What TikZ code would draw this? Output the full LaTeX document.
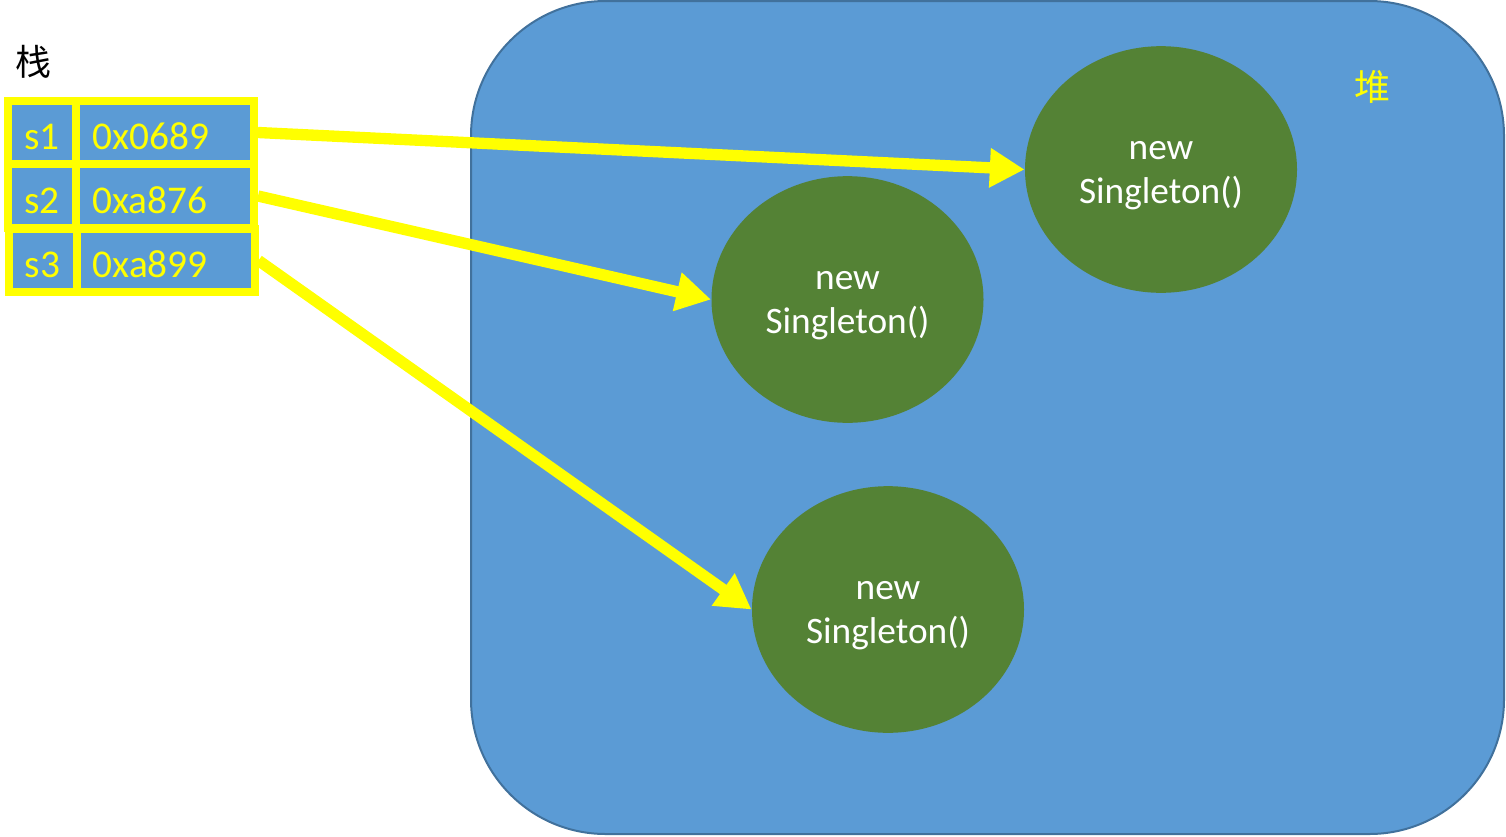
\documentclass[tikz,border=0pt]{standalone}
\usepackage{fontspec}
\setmainfont{Carlito}
\newfontfamily\cjk{Noto Sans CJK SC}
\usetikzlibrary{shapes.geometric,arrows.meta}
\definecolor{heapblue}{RGB}{91,155,213}
\definecolor{heapedge}{RGB}{65,113,156}
\definecolor{objgreen}{RGB}{84,130,53}
\definecolor{refyellow}{RGB}{255,255,0}
\tikzset{every picture/.style={line width=0.75pt}}
\tikzset{
  cell/.style={draw=refyellow,line width=6pt,fill=heapblue,minimum height=47.6pt,inner sep=0pt,text height=26pt,text depth=0pt,text=refyellow,font=\fontsize{29.5}{33}\selectfont},
  obj/.style={ellipse,fill=objgreen,minimum width=204pt,minimum height=185pt,inner sep=0pt,text height=51.7pt,text depth=0pt,text=white,align=center,font=\fontsize{28}{33}\selectfont},
  ref/.style={draw=refyellow,line width=8.5pt,-{Triangle[length=26pt,width=28pt]}}
}

\begin{document}
\begin{tikzpicture}[x=0.75pt,y=0.75pt,yscale=-1,xscale=1]
\useasboundingbox (0,0) rectangle (1506,836);

%Shape: Rounded Rect [id:heap]
\draw [draw=heapedge,line width=1.5pt,fill=heapblue,rounded corners=101pt] (471,1) rectangle (1504,834);

% Text Node
\node (heaplabel) at (1372,87) {\cjk\fontsize{27}{30}\selectfont\color{refyellow}堆};
% Text Node
\node (stacklabel) at (33,62) {\cjk\fontsize{27}{30}\selectfont 栈};

%Shape: Ellipse [id:objects]
\node [obj] (o1) at (1161,169.5) {new\\Singleton()};
\node [obj] (o2) at (847.5,299.5) {new\\Singleton()};
\node [obj] (o3) at (888,609.5) {new\\Singleton()};

%Shape: Stack cells
\node [cell,minimum width=51pt] (k1) at (42,132.5) {s1};
\node [cell,minimum width=133.5pt,text width=109pt,align=left,inner xsep=12pt] (v1) at (165,132.5) {0x0689};
\node [cell,minimum width=51pt] (k2) at (42,196) {s2};
\node [cell,minimum width=133.5pt,text width=109pt,align=left,inner xsep=12pt] (v2) at (165,196) {0xa876};
\node [cell,minimum width=51pt] (k3) at (42.5,260.5) {s3};
\node [cell,minimum width=133.5pt,text width=109pt,align=left,inner xsep=12pt] (v3) at (165.5,260.5) {0xa899};

%Straight Lines [id:references]
\draw [ref] (v1.east) -- (o1.west);
\draw [ref] (v2.east) -- (o2.west);
\draw [ref] (v3.east) -- (o3.west);

\end{tikzpicture}
\end{document}
